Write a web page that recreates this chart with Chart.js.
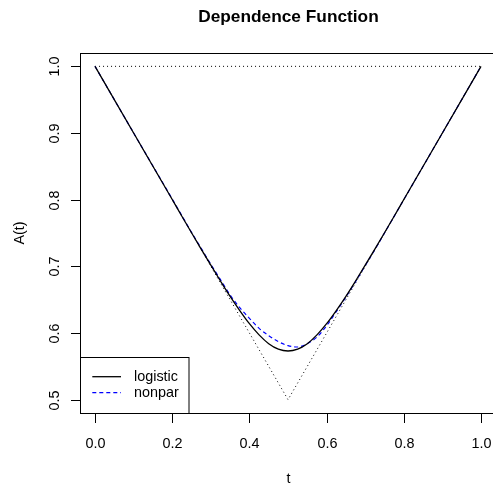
<!DOCTYPE html>
<html>
<head>
<meta charset="utf-8">
<script src="https://cdn.jsdelivr.net/npm/chart.js@4.4.1/dist/chart.umd.min.js"></script>
<style>
  html, body { margin: 0; padding: 0; background: #fff; overflow: hidden; }
  canvas { display: block; }
</style>
</head>
<body>
<canvas id="depChart" width="493" height="485"></canvas>
<script>
// t grid and the two estimated dependence functions A(t)
const tValues = [0, 0.1, 0.2, 0.225, 0.25, 0.275, 0.3, 0.325, 0.35, 0.375, 0.4, 0.425, 0.45, 0.475, 0.5,
                 0.525, 0.55, 0.575, 0.6, 0.625, 0.65, 0.675, 0.7, 0.725, 0.75, 0.775, 0.8, 0.9, 1];
const logisticA = [1, 0.9, 0.8002, 0.7751, 0.7504, 0.7259, 0.7017, 0.678, 0.655, 0.6337, 0.614, 0.5972, 0.584, 0.5758, 0.573,
                   0.5758, 0.584, 0.5972, 0.614, 0.6337, 0.655, 0.678, 0.7017, 0.7259, 0.7504, 0.7751, 0.8002, 0.9, 1];
const nonparA = [1, 0.9, 0.801, 0.776, 0.751, 0.727, 0.703, 0.68, 0.657, 0.638, 0.622, 0.607, 0.596, 0.587, 0.581,
                 0.579, 0.584, 0.594, 0.611, 0.632, 0.654, 0.677, 0.701, 0.725, 0.75, 0.775, 0.8, 0.9, 1];

// bounds: max(t, 1-t) and 1
const lowerT = [0, 0.5, 1];
const lowerA = [1, 0.5, 1];
const upperT = [0, 1];
const upperA = [1, 1];

const xTicks = [0, 0.2, 0.4, 0.6, 0.8, 1.0];
const yTicks = [0.5, 0.6, 0.7, 0.8, 0.9, 1.0];

const seriesNames = ['logistic', 'nonpar'];
const titleText = 'Dependence Function';
const xTitle = 't';
const yTitle = 'A(t)';

const FONT = '"Liberation Sans", Arial, Helvetica, sans-serif';

function pts(xs, ys) {
  return xs.map((x, i) => ({ x: x, y: ys[i] }));
}

// R style frame, axes, labels and legend
const rFrame = {
  id: 'rFrame',
  afterDraw(chart) {
    const ctx = chart.ctx;
    const a = chart.chartArea;
    const xs = chart.scales.x;
    const ys = chart.scales.y;
    ctx.save();
    ctx.strokeStyle = '#000';
    ctx.fillStyle = '#000';
    ctx.lineWidth = 1;

    // box (its right side falls just outside the picture, as in R's device)
    const bl = Math.round(a.left) + 0.5;
    const bt = Math.round(a.top) + 0.5;
    const bb = Math.round(a.bottom) + 0.5;
    const br = xs.getPixelForValue(1.04);
    ctx.strokeRect(bl, bt, br - bl, bb - bt);

    // x axis ticks
    ctx.font = '14.4px ' + FONT;
    ctx.textAlign = 'center';
    ctx.textBaseline = 'alphabetic';
    xTicks.forEach(v => {
      const px = Math.round(xs.getPixelForValue(v)) + 0.5;
      ctx.beginPath();
      ctx.moveTo(px, bb);
      ctx.lineTo(px, bb + 9.5);
      ctx.stroke();
      ctx.fillText(v.toFixed(1), px, 447.5);
    });

    // y axis ticks (rotated labels)
    yTicks.forEach(v => {
      const py = Math.round(ys.getPixelForValue(v)) + 0.5;
      ctx.beginPath();
      ctx.moveTo(bl, py);
      ctx.lineTo(bl - 9.5, py);
      ctx.stroke();
      ctx.save();
      ctx.translate(58.5, py);
      ctx.rotate(-Math.PI / 2);
      ctx.fillText(v.toFixed(1), 0, 0);
      ctx.restore();
    });

    // axis titles
    const midX = (bl + br) / 2;
    const midY = (a.top + a.bottom) / 2;
    ctx.fillText(xTitle, midX, 483);
    ctx.save();
    ctx.translate(24, midY);
    ctx.rotate(-Math.PI / 2);
    ctx.fillText(yTitle, 0, 0);
    ctx.restore();

    // title
    ctx.font = 'bold 17.3px ' + FONT;
    ctx.fillText(titleText, midX, 21.7);

    // legend
    const lTop = 357.5;
    ctx.fillStyle = '#fff';
    ctx.fillRect(bl, lTop, 108.5, bb - lTop);
    ctx.strokeStyle = '#000';
    ctx.strokeRect(bl, lTop, 108.5, bb - lTop);
    const rowsY = [376.7, 392.7];
    const styles = chart.data.datasets.slice(0, 2);
    ctx.font = '14.4px ' + FONT;
    ctx.textAlign = 'left';
    ctx.textBaseline = 'middle';
    seriesNames.forEach((name, i) => {
      ctx.strokeStyle = styles[i].borderColor;
      ctx.lineWidth = styles[i].borderWidth;
      ctx.setLineDash(styles[i].borderDash || []);
      ctx.beginPath();
      ctx.moveTo(92.3, rowsY[i]);
      ctx.lineTo(121, rowsY[i]);
      ctx.stroke();
      ctx.setLineDash([]);
      ctx.fillStyle = '#000';
      ctx.fillText(name, 134, rowsY[i]);
    });
    ctx.restore();
  }
};

new Chart(document.getElementById('depChart'), {
  type: 'scatter',
  data: {
    datasets: [
      {
        label: seriesNames[0],
        data: pts(tValues, logisticA),
        showLine: true,
        borderColor: '#000',
        borderWidth: 1.3,
        pointRadius: 0,
        cubicInterpolationMode: 'monotone'
      },
      {
        label: seriesNames[1],
        data: pts(tValues, nonparA),
        showLine: true,
        borderColor: '#0000ff',
        borderWidth: 1.2,
        borderDash: [4, 3],
        pointRadius: 0,
        cubicInterpolationMode: 'monotone'
      },
      {
        label: 'lower',
        data: pts(lowerT, lowerA),
        showLine: true,
        borderColor: '#000',
        borderWidth: 1,
        borderDash: [1, 3],
        pointRadius: 0
      },
      {
        label: 'upper',
        data: pts(upperT, upperA),
        showLine: true,
        borderColor: '#000',
        borderWidth: 1,
        borderDash: [1, 3],
        pointRadius: 0
      }
    ]
  },
  options: {
    responsive: false,
    animation: false,
    devicePixelRatio: 1,
    layout: { padding: { left: 79.6, right: 0, top: 53, bottom: 72 } },
    scales: {
      x: { type: 'linear', min: -0.04, max: 1.0311, display: false },
      y: { type: 'linear', min: 0.48, max: 1.02, display: false }
    },
    plugins: {
      legend: { display: false },
      tooltip: { enabled: false }
    }
  },
  plugins: [rFrame]
});
</script>
</body>
</html>
